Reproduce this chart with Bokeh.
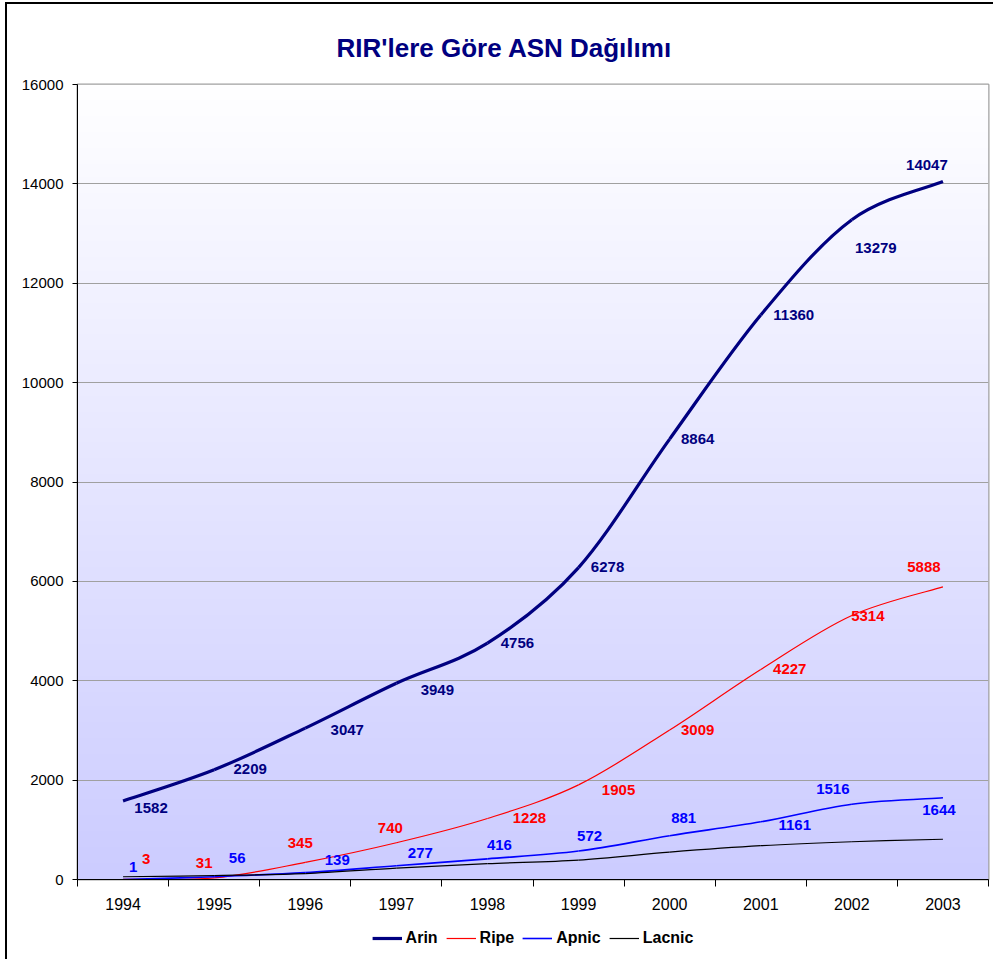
import numpy as np
from bokeh.plotting import figure
from bokeh.layouts import column
from bokeh.models import Range1d, FixedTicker, Legend, LegendItem, ColumnDataSource
from bokeh.embed import file_html
from bokeh.resources import INLINE
from bokeh.core.properties import value

# ---------------- data ----------------
years = ["1994", "1995", "1996", "1997", "1998", "1999", "2000", "2001", "2002", "2003"]
arin = [1582, 2209, 3047, 3949, 4756, 6278, 8864, 11360, 13279, 14047]
ripe = [3, 31, 345, 740, 1228, 1905, 3009, 4227, 5314, 5888]
apnic = [1, 56, 139, 277, 416, 572, 881, 1161, 1516, 1644]
lacnic = [55, 80, 120, 230, 320, 390, 550, 680, 760, 810]
y_ticks = [0, 2000, 4000, 6000, 8000, 10000, 12000, 14000, 16000]

# label offsets (screen px) for the data labels
arin_dx = [28, 36, 42, 41, 30, 29, 28, 33, 24, -16]
arin_dy = [7, -1, 2, 7, 0, -1, 0, 0, 28, -17]
ripe_dx = [23, -10, -5, -6, 42, 40, 28, 29, 16, -19]
ripe_dy = [-20, -15, -19, -15, 0, 5, 0, 0, 1, -20]
apnic_dx = [10, 23, 32, 24, 12, 11, 14, 34, -19, -4]
apnic_dy = [-12, -19, -13, -13, -14, -15, -18, 3, -15, 12]

FONT = "Liberation Sans"

p = figure(width=986, height=919,
           x_range=Range1d(0, 10), y_range=Range1d(0, 16000),
           output_backend="svg", toolbar_location=None,
           min_border_left=70, min_border_right=5, min_border_top=80, min_border_bottom=44)

p.background_fill_color = "white"
p.border_fill_color = "white"
p.outline_line_color = "#A0A0A0"
p.outline_line_width = 2

# title
p.title.text = "RIR'lere Göre ASN Dağılımı"
p.title.text_font = FONT
p.title.text_font_size = "26px"
p.title.text_font_style = "bold"
p.title.text_color = "#000080"
p.title.align = "left"
p.title.offset = 259
p.title.standoff = 44

# gradient background
n = 400
img = np.zeros((n, 1), dtype=np.uint32)
view = img.view(dtype=np.uint8).reshape((n, 1, 4))
t = np.linspace(0, 1, n)
view[:, 0, 0] = (204 + 51 * t).astype(np.uint8)
view[:, 0, 1] = (204 + 51 * t).astype(np.uint8)
view[:, 0, 2] = 255
view[:, 0, 3] = 255
p.image_rgba(image=[img], x=0, y=0, dw=10, dh=16000, level="image")

# axes
xa = p.xaxis[0]
xa.ticker = FixedTicker(ticks=[i + 0.5 for i in range(len(years))],
                        minor_ticks=list(range(len(years) + 1)))
xa.major_label_overrides = {i + 0.5: y for i, y in enumerate(years)}
xa.major_tick_out = 0
xa.major_tick_in = 0
xa.major_tick_line_color = None
xa.minor_tick_out = 7
xa.minor_tick_in = 0
xa.minor_tick_line_color = "black"
xa.axis_line_color = "black"
xa.major_label_standoff = 11
xa.major_label_text_font = FONT
xa.major_label_text_font_size = "16px"
xa.major_label_text_color = "black"

ya = p.yaxis[0]
ya.ticker = FixedTicker(ticks=y_ticks, minor_ticks=[])
ya.major_tick_out = 5
ya.major_tick_in = 0
ya.major_tick_line_color = "black"
ya.minor_tick_line_color = None
ya.axis_line_color = "black"
ya.major_label_standoff = 9
ya.major_label_text_font = FONT
ya.major_label_text_font_size = "15px"
ya.major_label_text_color = "black"

p.xgrid.visible = False
p.ygrid.ticker = FixedTicker(ticks=y_ticks)
p.ygrid.grid_line_color = "#A0A0A0"
p.ygrid.grid_line_width = 1


def bezier_source(vals):
    xs = [i + 0.5 for i in range(len(vals))]
    pts = list(zip(xs, vals))
    m = len(pts)
    d = dict(x0=[], y0=[], x1=[], y1=[], cx0=[], cy0=[], cx1=[], cy1=[])
    for i in range(m - 1):
        p0 = pts[i - 1] if i > 0 else pts[i]
        p1 = pts[i]
        p2 = pts[i + 1]
        p3 = pts[i + 2] if i + 2 < m else pts[i + 1]
        d["x0"].append(p1[0]); d["y0"].append(p1[1])
        d["x1"].append(p2[0]); d["y1"].append(p2[1])
        d["cx0"].append(p1[0] + (p2[0] - p0[0]) / 6.0)
        d["cy0"].append(p1[1] + (p2[1] - p0[1]) / 6.0)
        d["cx1"].append(p2[0] - (p3[0] - p1[0]) / 6.0)
        d["cy1"].append(p2[1] - (p3[1] - p1[1]) / 6.0)
    return ColumnDataSource(d)


series = [
    ("Arin", arin, "#000080", 3.2),
    ("Ripe", ripe, "#FF0000", 1.2),
    ("Apnic", apnic, "#0000FF", 1.6),
    ("Lacnic", lacnic, "#000000", 1.2),
]
for name, vals, col, w in series:
    src = bezier_source(vals)
    p.bezier(x0="x0", y0="y0", x1="x1", y1="y1",
             cx0="cx0", cy0="cy0", cx1="cx1", cy1="cy1",
             source=src, line_color=col, line_width=w)

labels = [
    (arin, arin_dx, arin_dy, "#000080"),
    (ripe, ripe_dx, ripe_dy, "#FF0000"),
    (apnic, apnic_dx, apnic_dy, "#0000FF"),
]
for vals, dx, dy, col in labels:
    src = ColumnDataSource(dict(x=[i + 0.5 for i in range(len(vals))], y=vals,
                                t=[str(v) for v in vals], dx=dx, dy=dy))
    p.text(x="x", y="y", text="t", x_offset="dx", y_offset="dy", source=src,
           text_font=value(FONT), text_font_style="bold", text_font_size="15px",
           text_color=col, text_align="center", text_baseline="middle")

# ---- legend strip (separate figure directly below the chart) ----
# its x range lies away from the series, so the series lines here only serve as legend keys
pl = figure(width=986, height=36, x_range=Range1d(100, 101), y_range=Range1d(0, 1),
            output_backend="svg", toolbar_location=None,
            x_axis_location=None, y_axis_location=None,
            min_border_left=70, min_border_right=5, min_border_top=0, min_border_bottom=0)
pl.grid.visible = False
pl.outline_line_color = None
pl.background_fill_color = "white"
pl.border_fill_color = "white"
keys = []
for name, vals, col, w in series:
    r = pl.line(x=[i + 0.5 for i in range(len(vals))], y=vals, line_color=col, line_width=w)
    keys.append(LegendItem(label=name, renderers=[r]))

legend = Legend(items=keys, orientation="horizontal", location="top_center",
                glyph_width=30, glyph_height=20, label_height=20, label_standoff=4, spacing=8,
                padding=0, margin=5, border_line_color=None, background_fill_alpha=0,
                label_text_font=FONT, label_text_font_style="bold", label_text_font_size="16px",
                label_text_color="black")
pl.add_layout(legend, "center")

layout = column(p, pl, spacing=0, margin=(2, 0, 0, 5),
                styles={"border-top": "2px solid black", "border-left": "2px solid black"})

open("out.html", "w").write(file_html(layout, INLINE))
